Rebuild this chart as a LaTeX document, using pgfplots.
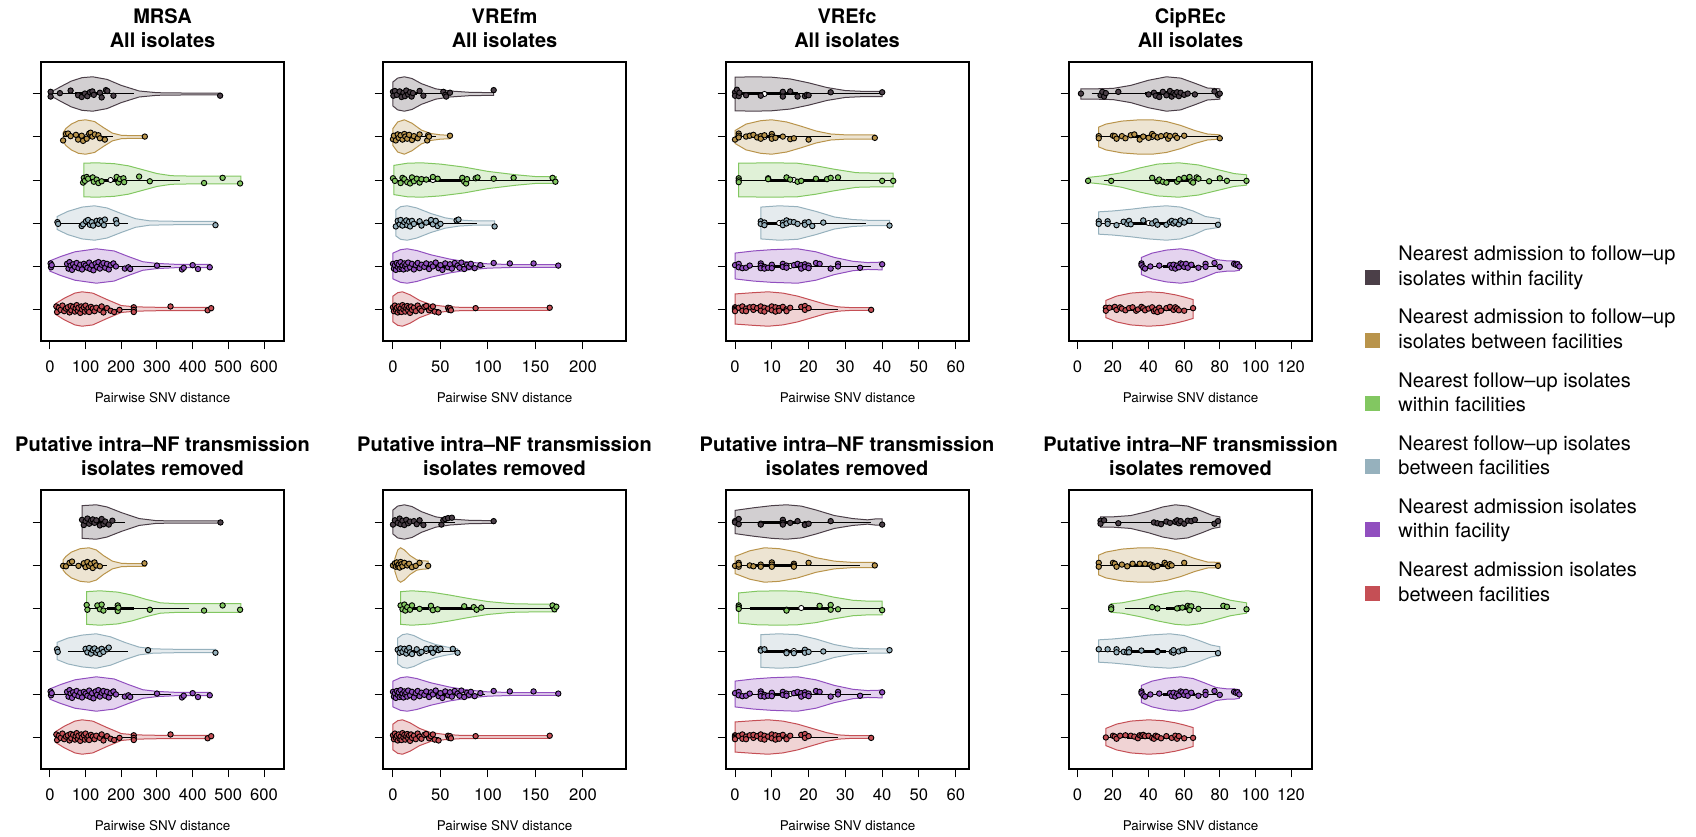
\documentclass[border=0pt]{standalone}
\usepackage{fontspec}
\setmainfont{TeX Gyre Heros}
\usepackage{pgfplots}
\pgfplotsset{compat=1.18}
\usepgfplotslibrary{fillbetween}
\definecolor{cA}{HTML}{4B3F48}
\definecolor{cB}{HTML}{B9944B}
\definecolor{cC}{HTML}{82C761}
\definecolor{cD}{HTML}{96B1BD}
\definecolor{cE}{HTML}{914FBF}
\definecolor{cF}{HTML}{C54F55}
\pgfplotsset{vp/.style={scale only axis, width=121.5pt, height=139.5pt,
  ymin=0.256, ymax=6.744, ytick={1,2,3,4,5,6}, yticklabels={},
  tick align=outside, major tick length=4.2pt, xtick pos=bottom, ytick pos=left,
  axis line style={line width=0.6pt}, tick style={line width=0.5pt, black},
  /pgf/number format/assume math mode=true,
  xticklabel style={font=\fontsize{8.3}{10}\selectfont, anchor=base, yshift=-11.7pt},
  xlabel={Pairwise SNV distance},
  xlabel style={font=\fontsize{6.7}{8}\selectfont, at={(axis description cs:0.5,0)}, anchor=base, yshift=-30.5pt},
  anchor=north west}}
% #1 position, #2 colour, #3 profile (x halfwidth), #4 whisker low, #5 q1, #6 median, #7 q3, #8 whisker high, #9 points (x jitter)
\newcommand\vio[9]{%
\addplot[draw=none, name path=U#1] table[row sep=\\, x index=0, y expr=#1+\thisrowno{1}] {#3};
\addplot[draw=none, name path=L#1] table[row sep=\\, x index=0, y expr=#1-\thisrowno{1}] {#3};
\addplot[fill=#2!25, draw=#2, line width=0.5pt] fill between[of=U#1 and L#1];
\addplot[black, line width=0.5pt] coordinates {(#4,#1) (#8,#1)};
\addplot[black, line width=1.5pt] coordinates {(#5,#1) (#7,#1)};
\addplot[only marks, mark=*, mark size=1.3pt, mark options={fill=white, draw=none}] coordinates {(#6,#1)};
\addplot[only marks, mark=*, mark size=1.35pt, mark options={fill=#2, draw=black, line width=0.45pt}] table[row sep=\\, x index=0, y expr=#1+\thisrowno{1}] {#9};
}
% shared violins
\newcommand\mrsaE{\vio{2}{cE}{0 .12\\30 .22\\70 .33\\130 .4\\180 .35\\220 .22\\260 .1\\300 .06\\350 .04\\450 .04\\}{0}{60}{120}{160}{340}
{2 .06\\3 -.03\\5 .02\\48 .05\\52 -.06\\55 .09\\58 .01\\62 -.09\\65 .04\\70 -.02\\75 .07\\80 -.05\\85 .03\\90 -.08\\95 .05\\100 .01\\105 -.04\\110 .08\\113 -.07\\118 .02\\122 -.1\\128 .06\\132 -.02\\136 .09\\140 -.06\\145 .03\\150 .07\\155 -.04\\160 .05\\165 -.08\\170 .02\\178 .06\\185 -.01\\210 -.06\\220 -.03\\225 -.07\\300 .01\\370 -.08\\375 -.04\\400 .02\\415 -.07\\448 -.03\\}}
\newcommand\mrsaF{\vio{1}{cF}{15 .12\\40 .25\\70 .37\\90 .4\\120 .37\\160 .22\\200 .08\\240 .05\\300 .04\\455 .04\\}{15}{60}{95}{125}{240}
{18 .06\\20 -.07\\25 .03\\30 -.02\\35 .08\\40 -.05\\45 .01\\50 .04\\55 -.08\\58 .07\\60 -.03\\65 .05\\70 -.06\\72 .02\\75 .09\\78 -.04\\80 .03\\85 -.09\\88 .06\\90 -.01\\95 .04\\98 -.06\\100 .08\\105 -.03\\108 .02\\110 -.07\\115 .05\\120 .01\\125 -.05\\130 .03\\140 -.02\\145 .06\\150 -.08\\160 .02\\170 -.04\\180 -.07\\195 -.02\\235 .04\\235 -.02\\235 -.07\\338 .06\\442 -.03\\452 .02\\}}
\newcommand\vfmE{\vio{2}{cE}{0 .3\\8 .38\\15 .4\\25 .36\\40 .26\\60 .16\\80 .09\\100 .05\\130 .03\\174 .03\\}{0}{10}{22}{55}{97}
{0 .05\\1 -.06\\2 .02\\3 -.09\\4 .07\\5 -.02\\6 .04\\7 -.07\\8 .09\\9 -.04\\10 .01\\11 -.08\\12 .06\\13 -.01\\14 .03\\15 -.06\\16 .08\\18 -.03\\20 .05\\22 -.08\\24 .02\\26 .07\\28 -.05\\30 .03\\33 -.02\\35 .06\\38 -.07\\40 .04\\42 -.01\\45 .08\\48 -.05\\50 .02\\52 -.09\\55 .06\\58 -.03\\60 .04\\62 -.06\\65 .07\\68 .01\\70 -.04\\72 .08\\75 -.07\\78 .03\\80 -.02\\82 .05\\86 -.05\\92 .02\\106 .07\\123 .06\\148 .06\\174 .01\\}}
\newcommand\vfmF{\vio{1}{cF}{0 .3\\5 .38\\10 .4\\18 .33\\28 .2\\40 .1\\55 .06\\70 .04\\100 .03\\165 .03\\}{0}{5}{12}{25}{48}
{0 .04\\1 -.05\\2 .08\\3 -.02\\4 .03\\5 -.08\\6 .06\\7 -.04\\8 .01\\9 -.07\\10 .09\\11 -.01\\12 .05\\13 -.06\\14 .02\\15 .07\\16 -.03\\17 .04\\18 -.09\\19 .06\\20 -.02\\22 .03\\24 -.05\\26 .08\\28 .01\\30 -.04\\33 .05\\35 .07\\38 -.03\\40 .02\\42 .06\\44 -.06\\48 -.08\\58 .03\\59 -.02\\60 .02\\61 -.03\\87 .02\\165 .03\\}}
\newcommand\vfcE{\vio{2}{cE}{0 .3\\5 .35\\10 .38\\17 .4\\22 .33\\27 .2\\32 .11\\36 .08\\40 .09\\}{0}{8}{15}{19}{37}
{0 .02\\1 .05\\1 -.03\\2 -.05\\3 -.04\\4 .01\\7 .06\\7 .01\\7 -.05\\8 -.02\\8 -.06\\9 -.04\\10 .03\\10 -.05\\13 .05\\13 -.02\\14 .01\\14 -.04\\16 .02\\17 .05\\18 -.03\\18 .02\\18 -.06\\19 .04\\19 -.02\\20 .01\\20 -.05\\22 .07\\23 .05\\26 -.06\\28 .05\\28 -.01\\34 -.04\\40 .04\\}}
\newcommand\vfcF{\vio{1}{cF}{0 .35\\5 .38\\9 .4\\13 .37\\17 .3\\21 .2\\25 .1\\28 .05\\32 .03\\37 .03\\}{0}{5}{10}{14}{28}
{0 .04\\0 .01\\0 -.02\\0 -.05\\1 .03\\2 .06\\2 -.04\\3 .01\\3 -.05\\4 .04\\5 -.02\\5 .05\\6 .02\\7 .06\\7 -.04\\8 .03\\8 -.06\\9 .01\\10 .06\\10 -.03\\11 .04\\11 -.06\\12 .02\\12 -.04\\13 .05\\14 -.01\\14 -.05\\15 .03\\18 .05\\19 .07\\19 -.02\\20 .02\\37 -.02\\}}
\newcommand\cipE{\vio{2}{cE}{36 .2\\42 .3\\50 .37\\58 .4\\65 .36\\72 .25\\78 .15\\84 .12\\88 .12\\91 .1\\}{36}{48}{58}{66}{81}
{36 .06\\36 .02\\37 -.03\\38 -.06\\41 -.01\\46 .01\\52 .02\\53 -.04\\54 .03\\55 -.06\\56 .01\\57 -.03\\58 .06\\59 .04\\60 -.02\\61 .05\\62 -.04\\64 .03\\68 -.04\\72 .05\\72 -.02\\77 .07\\80 -.02\\88 .05\\89 .03\\90 .04\\91 -.01\\}}
\begin{document}
\begin{tikzpicture}
% ===== MRSA all =====
\begin{axis}[vp, at={(20.5pt,-31pt)}, xmin=-25, xmax=656, xtick={0,100,...,600}]
\vio{6}{cA}{0 .05\\15 .1\\30 .17\\60 .3\\90 .38\\120 .4\\160 .34\\200 .2\\250 .07\\300 .03\\400 .02\\478 .02\\}{0}{70}{110}{150}{235}
{2 .05\\2 -.06\\28 .02\\58 .08\\79 -.03\\89 -.07\\98 .01\\105 -.05\\112 .04\\119 .06\\123 -.02\\140 .03\\145 -.08\\157 .09\\161 .07\\178 -.04\\477 -.04\\}
\vio{5}{cB}{37 .1\\45 .2\\60 .3\\80 .38\\100 .4\\125 .36\\150 .22\\175 .09\\200 .04\\230 .03\\268 .03\\}{37}{70}{103}{125}{178}
{37 -.08\\45 .07\\51 .08\\58 .02\\73 .05\\79 -.06\\89 .03\\93 -.09\\103 -.04\\110 .08\\114 .1\\119 .01\\126 .06\\136 .04\\140 -.03\\154 -.06\\266 .01\\}
\vio{4}{cC}{95 .39\\130 .4\\180 .38\\220 .33\\260 .24\\300 .15\\340 .1\\400 .09\\480 .09\\535 .09\\}{95}{150}{170}{195}{365}
{93 -.06\\95 .05\\98 -.02\\103 .07\\107 .03\\120 .06\\123 -.04\\131 .01\\136 -.07\\145 -.03\\187 .07\\192 -.06\\196 .02\\206 .04\\208 -.05\\250 .08\\280 -.03\\432 -.07\\484 .05\\533 -.08\\}
\vio{3}{cD}{20 .15\\50 .27\\90 .37\\125 .4\\160 .35\\200 .22\\240 .1\\280 .05\\350 .04\\465 .04\\}{22}{95}{120}{150}{220}
{21 .02\\23 -.02\\89 -.07\\93 -.03\\101 .04\\107 .07\\112 -.04\\117 .02\\121 -.06\\131 .05\\136 -.02\\140 .06\\145 .03\\151 -.05\\154 .08\\185 .07\\187 -.01\\464 -.05\\}
\mrsaE
\mrsaF
\end{axis}
% ===== VREfm all =====
\begin{axis}[vp, at={(191.5pt,-31pt)}, xmin=-10.5, xmax=245.3, xtick={0,50,...,200}]
\vio{6}{cA}{0 .28\\5 .37\\12 .4\\20 .36\\30 .24\\45 .12\\60 .07\\80 .04\\106 .03\\}{0}{5}{12}{25}{60}
{0 .05\\0.4 -.04\\2 .07\\4 -.02\\7 .06\\9 -.07\\11 .03\\12.6 -.05\\14 .08\\16 -.01\\18 .04\\19.6 -.06\\21 .02\\28 .07\\32 -.04\\53 .05\\55 -.02\\56 -.06\\60 .03\\106 .09\\}
\vio{5}{cB}{0 .2\\5 .35\\12 .4\\20 .32\\30 .16\\40 .08\\50 .05\\60 .04\\}{0}{4}{10}{20}{45}
{0 -.05\\1 .03\\3 -.08\\5 .06\\6 -.02\\8 .04\\10 -.06\\12 .07\\13 .01\\15 -.04\\17 .05\\20 -.07\\22 .02\\26 -.03\\28 .06\\36 -.08\\37 .04\\38 .01\\60 .03\\}
\vio{4}{cC}{1 .34\\15 .39\\30 .4\\50 .37\\75 .3\\100 .2\\130 .12\\150 .08\\172 .08\\}{0}{25}{42}{76}{172}
{0 .04\\2 -.02\\8 -.07\\10 .05\\12 .02\\15 -.05\\18 -.08\\20 .06\\22 -.03\\25 .03\\28 -.06\\30 .02\\35 .01\\42 .07\\47 .03\\73 .05\\75 -.04\\77 -.08\\78 .02\\87 .04\\89 .06\\106 .03\\127 .05\\168 .05\\171 -.04\\}
\vio{3}{cD}{3 .3\\8 .38\\15 .4\\25 .35\\40 .22\\55 .12\\70 .07\\85 .05\\107 .05\\}{3}{12}{20}{40}{88}
{3 -.08\\5 .05\\7 -.03\\8 .07\\10 -.06\\12 .02\\14 .06\\15 -.05\\17 .03\\18 -.08\\20 .05\\22 -.02\\28 .04\\30 -.06\\35 .01\\40 .07\\42 -.03\\45 .05\\47 -.07\\50 -.02\\67 .06\\69 .08\\107 -.08\\}
\vfmE
\vfmF
\end{axis}
% ===== VREfc all =====
\begin{axis}[vp, at={(363pt,-31pt)}, xmin=-2.45, xmax=63.6, xtick={0,10,...,60}]
\vio{6}{cA}{0 .39\\5 .4\\10 .39\\15 .35\\20 .26\\25 .15\\30 .08\\35 .06\\40 .06\\}{0}{1}{8}{17}{40}
{0 .04\\0 -.04\\0.5 .1\\1 -.05\\1.2 .03\\3 -.03\\7 -.04\\13 .05\\13 -.06\\15 .06\\17 -.06\\19 -.05\\19.5 -.02\\20 -.03\\26 .04\\40 .04\\}
\vio{5}{cB}{0 .15\\3 .3\\7 .38\\10 .4\\14 .35\\18 .25\\22 .14\\26 .07\\30 .05\\38 .05\\}{0}{4}{8}{13}{26}
{0 -.06\\1 .08\\1 .03\\1 -.01\\3 .01\\4 .03\\5 .05\\6 -.01\\7 .02\\7 -.04\\8 .04\\10 .07\\10 .01\\10 -.04\\11 -.02\\13 .01\\15 -.05\\16 -.03\\20 -.06\\38 -.02\\}
\vio{4}{cC}{1 .39\\10 .4\\17 .39\\22 .33\\27 .25\\33 .17\\38 .16\\43 .16\\}{1}{9}{16}{25}{43}
{1 .04\\1 -.01\\1 -.05\\9 .04\\9 .02\\14 .06\\15 .01\\17 -.04\\18 -.02\\22 .03\\25 .02\\26 .05\\28 .06\\40 -.02\\43 -.02\\}
\vio{3}{cD}{7 .37\\12 .4\\17 .38\\22 .27\\27 .14\\32 .08\\37 .06\\42 .06\\}{7}{8}{12}{14}{35.5}
{7 .04\\7 -.02\\8 .01\\8 -.05\\13 .01\\13 -.05\\14 .06\\14 -.01\\15 .03\\16 .02\\17 -.02\\19 .01\\19 -.04\\20 .02\\21 -.07\\24 .01\\42 -.06\\}
\vfcE
\vfcF
\end{axis}
% ===== CipREc all =====
\begin{axis}[vp, at={(534.5pt,-31pt)}, xmin=-4.7, xmax=131.8, xtick={0,20,...,120}]
\vio{6}{cA}{2 .12\\10 .12\\20 .13\\30 .2\\40 .32\\50 .4\\58 .37\\66 .25\\73 .14\\80 .12\\}{8}{38}{50}{58}{80}
{2 .01\\13 -.03\\14 .05\\15 -.06\\16 .02\\23 .05\\40 -.01\\43 .03\\44 -.04\\46 -.07\\48 .05\\50 -.03\\52 .07\\53 -.06\\54 .02\\55 -.01\\56 .04\\57 -.05\\58 .03\\60 -.02\\62 .01\\66 -.01\\77 .06\\79 -.02\\80 .01\\}
\vio{5}{cB}{12 .23\\16 .3\\25 .37\\35 .4\\42 .4\\50 .36\\58 .27\\66 .15\\73 .07\\80 .05\\}{12}{30}{42}{52}{80}
{12 .02\\12 -.03\\20 .03\\21 .02\\22 -.04\\25 .02\\27 -.03\\30 .04\\32 .06\\35 -.06\\37 .01\\40 -.02\\42 .07\\43 .03\\45 -.01\\47 .02\\50 .04\\51 -.04\\52 .02\\55 .03\\56 -.02\\60 .03\\80 -.03\\}
\vio{4}{cC}{6 .06\\15 .1\\25 .17\\35 .28\\45 .37\\57 .4\\68 .35\\78 .25\\88 .15\\95 .12\\}{15}{50}{57}{65}{95}
{6 -.02\\19 -.02\\42 .05\\45 -.03\\46 .01\\48 -.04\\50 -.06\\56 -.04\\57 .02\\60 .05\\63 .07\\64 -.03\\65 -.06\\67 .06\\68 .03\\74 -.03\\80 .04\\84 -.02\\95 -.02\\}
\vio{3}{cD}{12 .26\\20 .28\\30 .32\\40 .37\\50 .4\\58 .37\\65 .28\\72 .15\\80 .1\\}{12}{25}{40}{50}{80}
{12 .04\\12 -.02\\17 .04\\17 -.02\\22 -.05\\26 .03\\28 -.02\\29 .05\\30 -.03\\37 .06\\42 -.01\\44 .04\\45 -.04\\50 -.04\\52 .02\\53 .05\\54 -.01\\55 .03\\57 -.03\\58 .06\\60 .01\\63 .05\\79 -.04\\}
\cipE
\vio{1}{cF}{16 .2\\22 .3\\30 .37\\40 .4\\48 .38\\55 .33\\60 .28\\65 .22\\}{16}{28}{45}{55}{65}
{16 .03\\16 -.04\\18 .03\\21 .05\\22 -.02\\24 .04\\25 .01\\27 -.03\\29 .02\\31 .04\\33 -.04\\34 -.01\\36 .05\\37 .02\\38 -.03\\40 .01\\42 .04\\43 -.05\\44 -.02\\45 -.07\\46 .03\\47 -.04\\50 .02\\52 .05\\54 -.02\\55 .04\\56 .01\\57 -.03\\60 -.04\\65 .02\\}
\end{axis}
% ===== MRSA removed =====
\begin{axis}[vp, at={(20.5pt,-245pt)}, xmin=-25, xmax=656, xtick={0,100,...,600}]
\vio{6}{cA}{90 .38\\110 .39\\130 .4\\160 .35\\200 .22\\250 .08\\300 .03\\400 .025\\478 .025\\}{90}{100}{125}{150}{210}
{90 .05\\95 -.07\\100 .02\\105 .08\\110 -.04\\115 .03\\120 .06\\125 -.02\\130 .04\\140 -.08\\145 .07\\150 -.05\\155 .01\\165 -.06\\175 .03\\478 -.01\\}
\vio{5}{cB}{37 .12\\45 .2\\60 .3\\85 .38\\110 .4\\130 .35\\150 .22\\175 .09\\200 .04\\230 .03\\268 .03\\}{50}{90}{115}{130}{160}
{37 -.02\\45 -.03\\55 .05\\62 .08\\80 -.02\\95 .04\\100 -.05\\105 .07\\110 -.02\\115 .03\\120 -.07\\125 .06\\130 -.01\\140 -.03\\265 .04\\}
\vio{4}{cC}{103 .38\\140 .4\\190 .37\\230 .3\\270 .2\\310 .12\\360 .1\\450 .1\\535 .1\\}{103}{160}{190}{235}{390}
{103 .07\\105 -.04\\133 .06\\140 -.03\\145 .08\\150 -.06\\190 .06\\190 -.07\\192 .01\\280 -.04\\432 -.06\\484 .06\\533 -.04\\}
\vio{3}{cD}{20 .2\\50 .3\\90 .37\\130 .4\\170 .33\\210 .2\\250 .09\\290 .05\\350 .04\\465 .04\\}{50}{105}{130}{150}{220}
{20 .04\\22 -.02\\100 .05\\105 -.03\\110 .07\\115 -.06\\120 .02\\125 .06\\130 -.04\\135 .01\\140 -.07\\145 .05\\150 -.02\\160 .04\\165 .08\\275 .02\\464 -.04\\}
\mrsaE
\mrsaF
\end{axis}
% ===== VREfm removed =====
\begin{axis}[vp, at={(191.5pt,-245pt)}, xmin=-10.5, xmax=245.3, xtick={0,50,...,200}]
\vio{6}{cA}{0 .28\\5 .37\\12 .4\\20 .36\\30 .24\\45 .12\\60 .07\\80 .04\\106 .03\\}{0}{8}{15}{30}{65}
{0 -.06\\2 .04\\5 -.02\\7 .08\\8 -.05\\10 .03\\12 -.07\\14 .05\\16 -.03\\18 .01\\22 .02\\25 -.05\\28 .04\\32 -.07\\51 -.06\\53 .04\\55 .07\\58 .09\\62 .1\\106 .02\\}
\vio{5}{cB}{2 .15\\5 .35\\8 .4\\12 .35\\18 .22\\25 .12\\30 .1\\37 .09\\}{0}{4}{8}{15}{30}
{0 -.01\\2 .04\\3 -.04\\4 .06\\5 -.02\\6 .01\\7 -.06\\8 .07\\9 .02\\10 -.03\\12 .05\\15 -.01\\17 .03\\20 -.05\\24 -.02\\28 .05\\37 -.02\\}
\vio{4}{cC}{8 .38\\20 .4\\40 .37\\60 .3\\80 .22\\100 .15\\125 .1\\150 .09\\172 .09\\}{8}{15}{40}{85}{170}
{8 .06\\10 -.03\\12 .08\\13 -.06\\15 .02\\18 -.04\\20 .06\\28 -.02\\40 .05\\42 -.05\\47 -.03\\75 .04\\85 .02\\88 -.04\\93 .01\\168 .06\\170 -.03\\172 .03\\}
\vio{3}{cD}{5 .3\\10 .38\\15 .4\\22 .36\\32 .25\\45 .15\\55 .1\\68 .05\\}{5}{20}{35}{50}{68}
{5 .03\\7 -.04\\8 .06\\10 -.02\\12 .05\\14 -.06\\15 .02\\17 .07\\18 -.03\\20 -.07\\25 .04\\28 -.05\\30 -.02\\35 .05\\40 .06\\42 -.04\\45 .06\\48 .02\\50 .05\\63 .05\\68 -.04\\}
\vfmE
\vfmF
\end{axis}
% ===== VREfc removed =====
\begin{axis}[vp, at={(363pt,-245pt)}, xmin=-2.45, xmax=63.6, xtick={0,10,...,60}]
\vio{6}{cA}{0 .27\\5 .33\\10 .38\\14 .4\\18 .37\\22 .28\\27 .15\\32 .08\\36 .05\\38 .07\\40 .07\\}{0}{7}{13}{17}{37}
{0 .02\\0 -.01\\1 .07\\1 -.05\\7 -.04\\7 -.06\\13 .05\\13 -.02\\13 -.06\\15 -.02\\17 .02\\19 -.05\\19 -.07\\20 -.04\\26 .02\\40 -.06\\}
\vio{5}{cB}{0 .2\\4 .33\\8 .4\\12 .38\\17 .3\\22 .17\\27 .09\\32 .06\\38 .06\\}{0}{5}{10}{16}{34}
{0 -.02\\1 .05\\1 -.04\\1 .01\\4 -.01\\5 -.03\\7 .01\\7 -.04\\10 .06\\10 .01\\10 -.04\\16 .03\\16 -.01\\16 -.04\\20 .05\\38 -.01\\}
\vio{4}{cC}{1 .35\\6 .39\\12 .4\\17 .39\\22 .34\\27 .25\\32 .18\\36 .16\\40 .16\\}{1}{4}{18}{26}{40}
{1 .06\\1 .02\\1 -.02\\14 -.04\\14 -.06\\23 .05\\26 .07\\26 -.04\\28 -.03\\40 -.05\\}
\vio{3}{cD}{7 .38\\12 .4\\17 .38\\22 .28\\27 .15\\32 .07\\37 .05\\42 .05\\}{7}{8}{16}{20}{36}
{7 .04\\7 .01\\8 .04\\14 -.02\\14 -.05\\16 -.05\\19 .03\\19 -.04\\20 -.02\\24 -.01\\42 .02\\}
\vfcE
\vfcF
\end{axis}
% ===== CipREc removed =====
\begin{axis}[vp, at={(534.5pt,-245pt)}, xmin=-4.7, xmax=131.8, xtick={0,20,...,120}]
\vio{6}{cA}{13 .12\\20 .12\\30 .15\\40 .25\\48 .35\\55 .4\\62 .37\\70 .25\\76 .15\\80 .12\\}{13}{45}{55}{62}{80}
{13 .03\\13 -.04\\15 .04\\23 -.03\\43 -.01\\45 -.03\\47 -.05\\50 .01\\52 -.02\\55 .01\\56 .04\\57 -.03\\58 .02\\60 -.04\\62 .03\\64 .02\\66 .05\\77 -.04\\79 .02\\}
\vio{5}{cB}{12 .23\\16 .3\\25 .37\\35 .4\\42 .4\\50 .36\\58 .27\\66 .15\\73 .07\\80 .06\\}{12}{28}{42}{52}{80}
{12 .05\\12 -.04\\20 .05\\21 .03\\22 -.04\\25 .01\\28 -.03\\31 .03\\35 .03\\38 .03\\41 .01\\42 -.03\\43 -.05\\45 -.02\\49 .05\\50 .01\\51 -.03\\52 .02\\53 -.01\\60 .05\\79 -.02\\}
\vio{4}{cC}{19 .1\\25 .12\\35 .2\\45 .3\\55 .38\\62 .4\\70 .36\\78 .27\\86 .18\\95 .12\\}{27}{50}{57}{65}{89}
{19 .02\\19 -.03\\42 .02\\45 -.01\\56 -.01\\59 .01\\62 .05\\63 .02\\64 .04\\63 -.05\\68 -.02\\82 .05\\84 .03\\95 -.03\\}
\vio{3}{cD}{12 .26\\20 .28\\30 .32\\40 .37\\52 .4\\60 .36\\68 .25\\75 .14\\80 .1\\}{12}{25}{45}{50}{80}
{12 .04\\17 .04\\22 .04\\22 -.03\\26 -.02\\28 -.03\\29 .04\\29 -.03\\36 .01\\45 -.02\\53 -.02\\54 -.04\\54 .02\\57 -.01\\60 .03\\59 .02\\79 -.05\\}
\cipE
\vio{1}{cF}{16 .2\\22 .3\\30 .37\\40 .4\\48 .38\\55 .33\\60 .28\\65 .22\\}{16}{28}{45}{55}{65}
{16 -.01\\20 .03\\21 .01\\22 -.04\\24 .03\\27 .04\\30 .03\\32 .01\\34 -.03\\35 .04\\36 .03\\37 .05\\38 .02\\40 .03\\42 -.02\\43 -.04\\44 .03\\45 .01\\47 -.03\\50 .02\\53 -.02\\55 .03\\56 -.04\\57 .02\\60 -.03\\65 -.02\\}
\end{axis}
% ===== titles =====
\begin{scope}[every node/.style={anchor=base, font=\bfseries\fontsize{10}{12}\selectfont, inner sep=0pt}]
\node at (81.25pt,-12pt) {MRSA};
\node at (81.25pt,-23.65pt) {All isolates};
\node at (252.25pt,-12pt) {VREfm};
\node at (252.25pt,-23.65pt) {All isolates};
\node at (423.5pt,-12pt) {VREfc};
\node at (423.5pt,-23.65pt) {All isolates};
\node at (595.25pt,-12pt) {CipREc};
\node at (595.25pt,-23.65pt) {All isolates};
\node at (81.25pt,-225.85pt) {Putative intra--NF transmission};
\node at (81.25pt,-237.5pt) {isolates removed};
\node at (252.25pt,-225.85pt) {Putative intra--NF transmission};
\node at (252.25pt,-237.5pt) {isolates removed};
\node at (423.5pt,-225.85pt) {Putative intra--NF transmission};
\node at (423.5pt,-237.5pt) {isolates removed};
\node at (595.25pt,-225.85pt) {Putative intra--NF transmission};
\node at (595.25pt,-237.5pt) {isolates removed};
\end{scope}
% ===== legend =====
\begin{scope}[every node/.style={anchor=base west, font=\fontsize{10}{12}\selectfont, inner sep=0pt}]
\fill[cA] (682.5pt,-134.75pt) rectangle (690pt,-142.25pt);
\node at (699pt,-130.35pt) {Nearest admission to follow--up};
\node at (699pt,-142.5pt) {isolates within facility};
\fill[cB] (682.5pt,-166.35pt) rectangle (690pt,-173.85pt);
\node at (699pt,-161.95pt) {Nearest admission to follow--up};
\node at (699pt,-174.1pt) {isolates between facilities};
\fill[cC] (682.5pt,-197.95pt) rectangle (690pt,-205.45pt);
\node at (699pt,-193.55pt) {Nearest follow--up isolates};
\node at (699pt,-205.7pt) {within facilities};
\fill[cD] (682.5pt,-229.55pt) rectangle (690pt,-237.05pt);
\node at (699pt,-225.15pt) {Nearest follow--up isolates};
\node at (699pt,-237.3pt) {between facilities};
\fill[cE] (682.5pt,-261.15pt) rectangle (690pt,-268.65pt);
\node at (699pt,-256.75pt) {Nearest admission isolates};
\node at (699pt,-268.9pt) {within facility};
\fill[cF] (682.5pt,-292.75pt) rectangle (690pt,-300.25pt);
\node at (699pt,-288.35pt) {Nearest admission isolates};
\node at (699pt,-300.5pt) {between facilities};
\end{scope}
\useasboundingbox (0pt,0pt) rectangle (848pt,-418pt);
\end{tikzpicture}
\end{document}
